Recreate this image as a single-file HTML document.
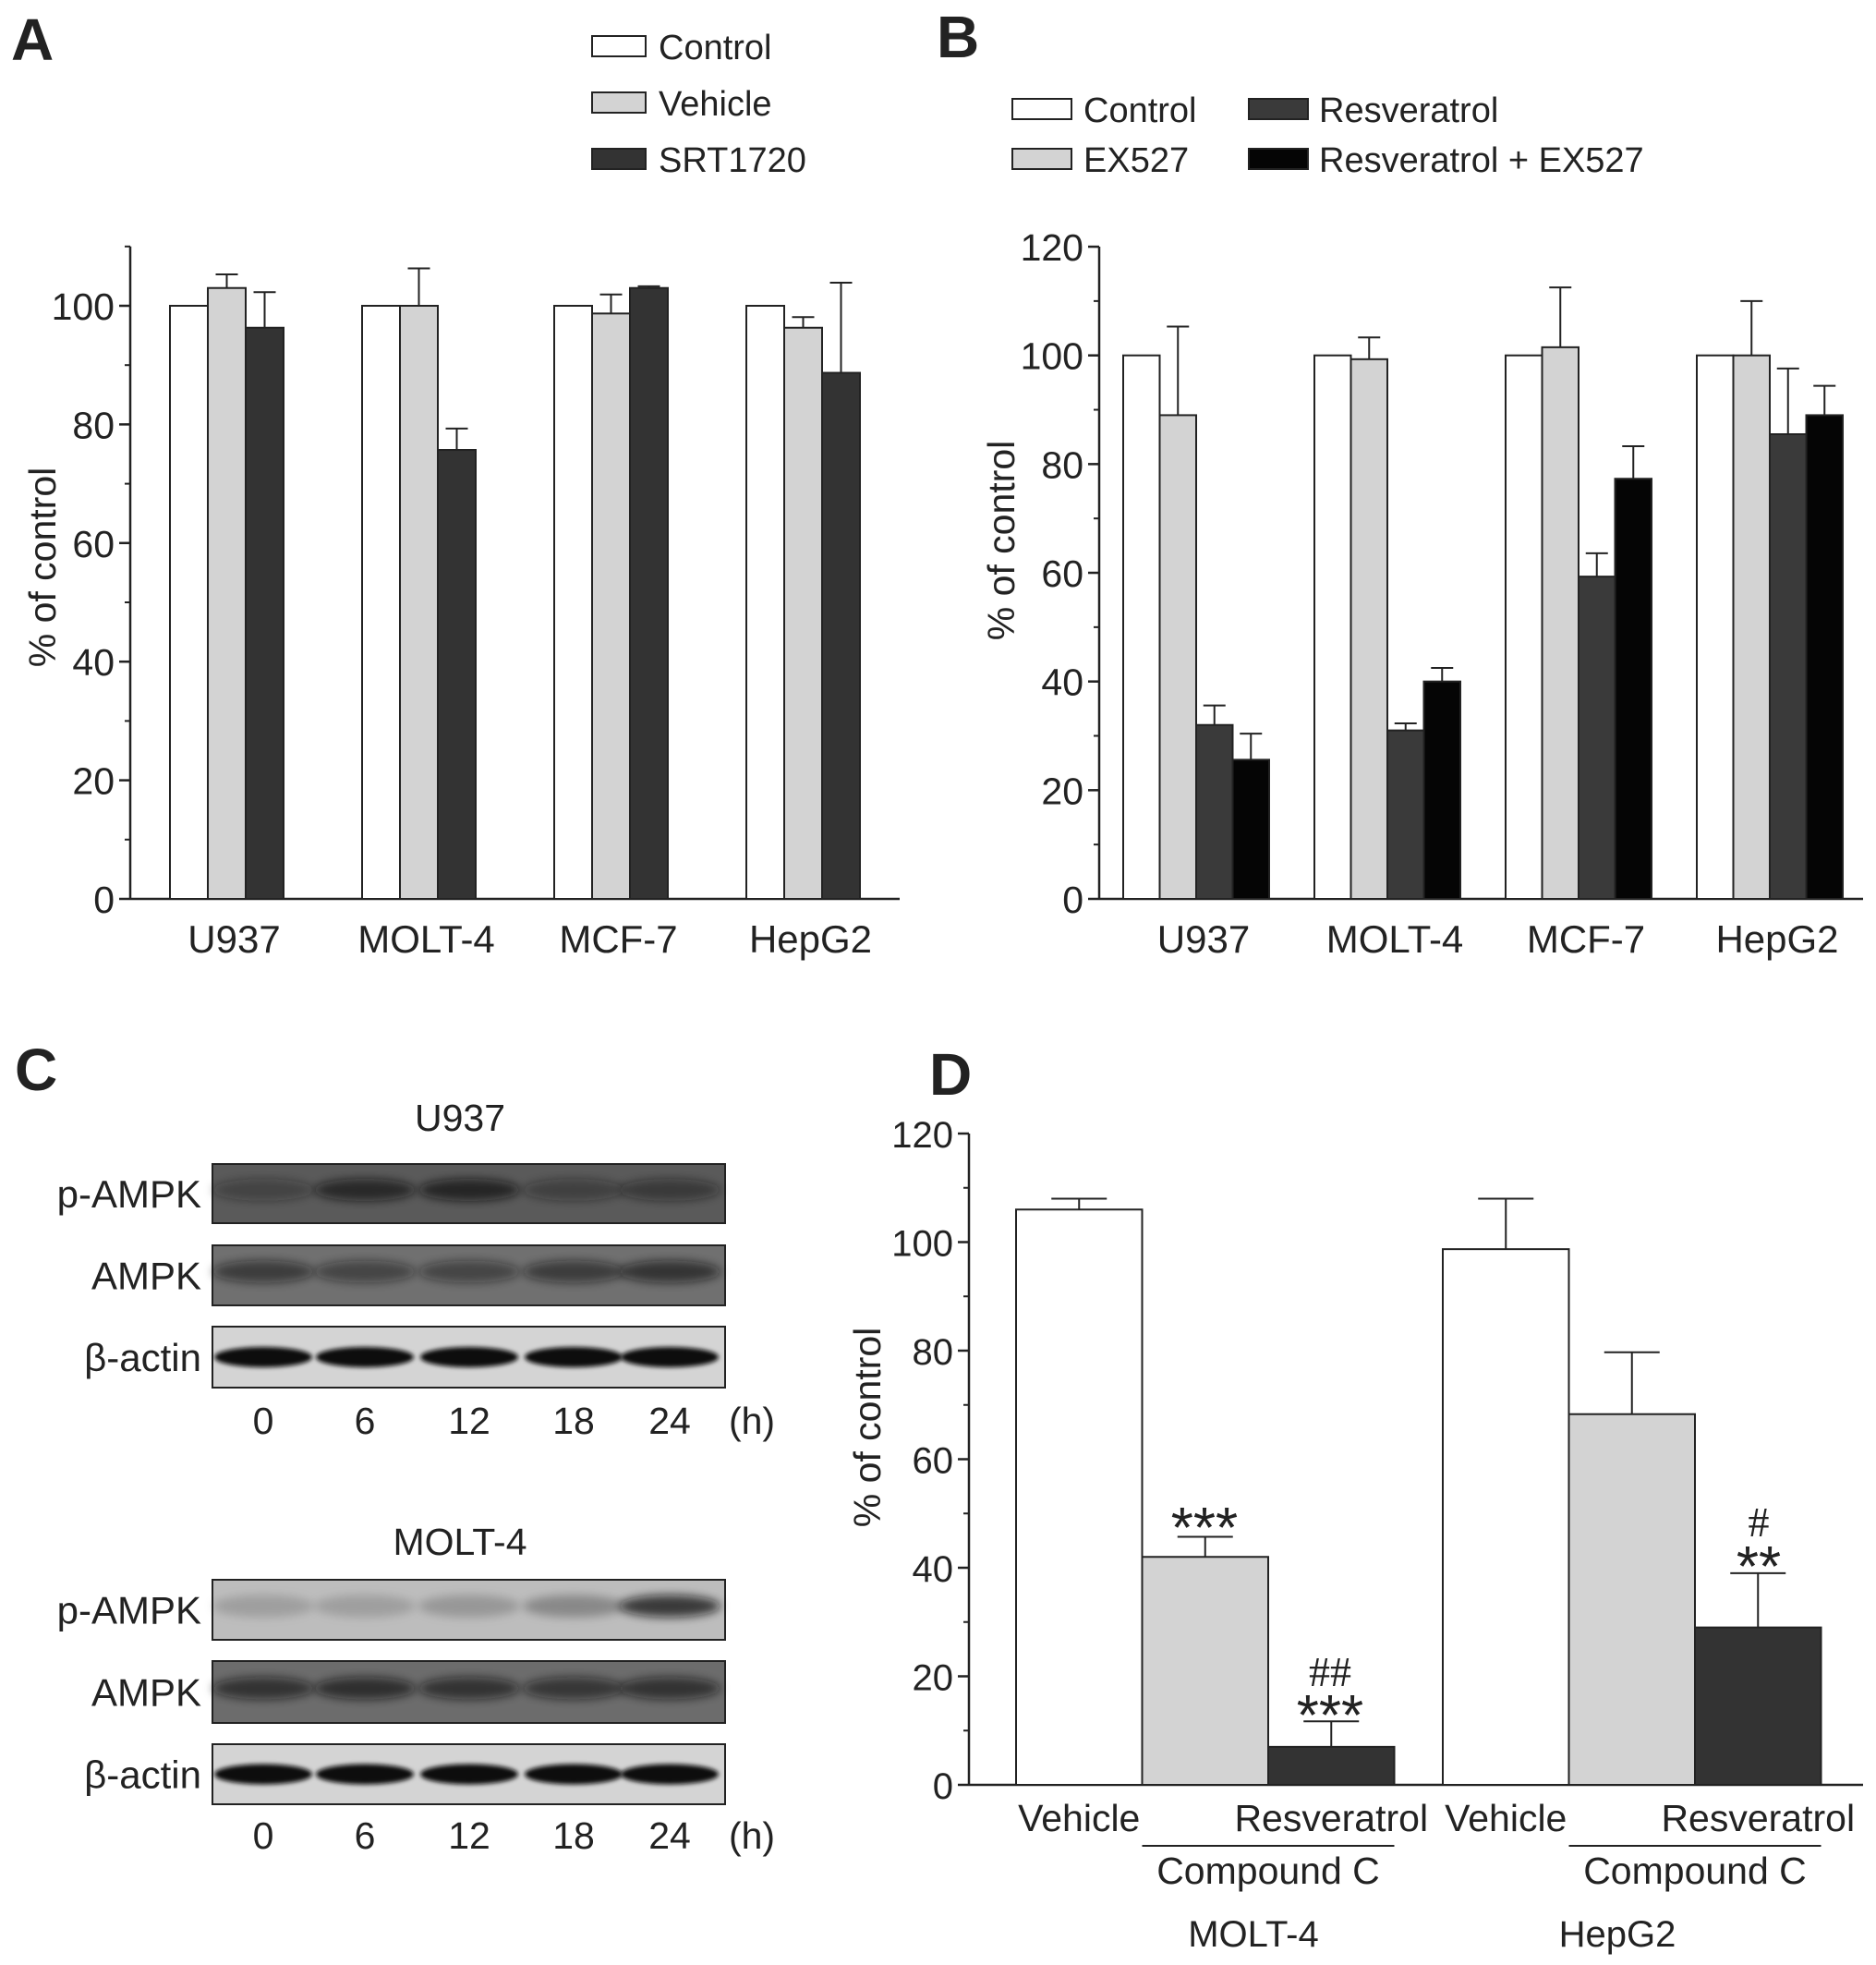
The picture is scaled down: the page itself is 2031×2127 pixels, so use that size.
<!DOCTYPE html>
<html><head><meta charset="utf-8"><style>
html,body{margin:0;padding:0;background:#fff;}
svg{display:block;font-family:"Liberation Sans",Arial,sans-serif;}
</style></head><body>
<svg id="fig" width="2031" height="2127" viewBox="0 0 2031 2127" xmlns="http://www.w3.org/2000/svg">
<defs>
<filter id="blur" x="-20%" y="-50%" width="140%" height="200%"><feGaussianBlur stdDeviation="5"/></filter>
<filter id="blur2" x="-20%" y="-50%" width="140%" height="200%"><feGaussianBlur stdDeviation="2.5"/></filter>
</defs>
<g id="root"></g>
</svg>
<script>
// ---- Panel A data ----
const catsA = ["U937","MOLT-4","MCF-7","HepG2"];
const seriesA = ["Control","Vehicle","SRT1720"];
const ctrlA = [100,100,100,100];
const vehA = [103,100,98.7,96.3];
const srtA = [96.3,75.7,103,88.7];
const vehAErr = [105.3,106.3,101.9,98.1];
const srtAErr = [102.3,79.3,103.3,103.9];
const ticksA = [0,20,40,60,80,100];
// ---- Panel B data ----
const catsB = ["U937","MOLT-4","MCF-7","HepG2"];
const seriesB = ["Control","EX527","Resveratrol","Resveratrol + EX527"];
const ctrlB = [100,100,100,100];
const exB = [89,99.3,101.5,100];
const resB = [32,31,59.3,85.5];
const resExB = [25.6,40,77.3,89];
const exBErr = [105.3,103.3,112.5,110];
const resBErr = [35.6,32.3,63.6,97.6];
const resExBErr = [30.4,42.5,83.3,94.4];
const ticksB = [0,20,40,60,80,100,120];
// ---- Panel D data ----
const groupsD = ["MOLT-4","HepG2"];
const condD = ["Vehicle","Compound C","Resveratrol"];
const molt4D = [106,42,7];
const hepg2D = [98.7,68.3,29];
const molt4DErr = [108,45.7,11.7];
const hepg2DErr = [108,79.7,39];
const ticksD = [0,20,40,60,80,100,120];
// ---- Panel C data ----
const timesC = ["0","6","12","18","24"];
const blotRowsC = ["p-AMPK","AMPK","β-actin"];

const NS="http://www.w3.org/2000/svg";
const root=document.getElementById('root');
function mk(tag,attrs,parent,txt){const e=document.createElementNS(NS,tag);for(const k in attrs)e.setAttribute(k,attrs[k]);if(txt!==undefined)e.textContent=txt;(parent||root).appendChild(e);return e;}
function line(x1,y1,x2,y2,p,w){return mk('line',{x1,y1,x2,y2,stroke:'#222','stroke-width':w||2.5},p);}

function axis(p,x0,x1,yS,ticks,minorStep,vmax,fs,tickX){
  const ax=mk('g',{},p);
  
  
  line(x0,yS(0),x0,yS(vmax),ax);
  line(x0,yS(0),x1,yS(0),ax);
  for(let v=0;v<=vmax+0.01;v+=minorStep){line(x0-6,yS(v),x0,yS(v),ax,2);}
  ticks.forEach(t=>{line(x0-12,yS(t),x0,yS(t),ax,2.5);
    const tl=mk('text',{x:x0-(tickX||17),y:yS(t)+15,'text-anchor':'end','font-size':fs,fill:'#222'},ax,String(t));
    
    
  });
}
function bar(p,x,w,yS,v,fill,name){const r=mk('rect',{x,y:yS(v),width:w,height:yS(0)-yS(v),fill,stroke:'#222','stroke-width':2},p);
  
  return r;}
function err(p,cx,yS,v,e,cap){const g=mk('g',{},p);
  
  
  line(cx,yS(v),cx,yS(e),g,2);line(cx-cap,yS(e),cx+cap,yS(e),g,2);}
function label(p,x,y,t,fs,anchor,name,weight,fam){const a={x,y,'font-size':fs,'text-anchor':anchor||'middle',fill:'#222','font-weight':weight||'normal'};if(fam)a['font-family']=fam;const e=mk('text',a,p,t);
  
  return e;}
function ytitle(p,x,y,fs){const e=mk('text',{x,y,'font-size':fs,'text-anchor':'middle',fill:'#222',transform:`rotate(-90 ${x} ${y})`},p,'% of control');
  
  }

// ===== Panel A =====
{
const g=mk('g',{});


const yS=v=>973-v*6.42;
axis(g,141,974,yS,ticksA,10,110,41);
const left0=184,sp=208,bw=41;
const fills=['#fff','#d3d3d3','#333'];
catsA.forEach((c,i)=>{
  const L=left0+sp*i;
  bar(g,L,bw,yS,ctrlA[i],fills[0],'bar-control-'+c);
  bar(g,L+bw,bw,yS,vehA[i],fills[1],'bar-vehicle-'+c);
  bar(g,L+2*bw,bw,yS,srtA[i],fills[2],'bar-srt1720-'+c);
  err(g,L+1.5*bw,yS,vehA[i],vehAErr[i],12);
  err(g,L+2.5*bw,yS,srtA[i],srtAErr[i],12);
  label(g,L+1.5*bw+8,1031,c,42,'middle','x-tick-label');
});
ytitle(g,60,614,41);
label(g,12,65,'A',64,'start','panel-label','bold');
seriesA.forEach((s,i)=>{
  const y=[50,111,172][i];
  const r=mk('rect',{x:641,y:y-11,width:58,height:22,fill:fills[i],stroke:'#222','stroke-width':2},g);
  
  
  label(g,713,y+14,s,38,'start','legend-entry');
});
}
// ===== Panel B =====
{
const g=mk('g',{});


const yS=v=>973-v*5.883;
axis(g,1190,2017,yS,ticksB,10,120,41);
const left0=1216,sp=207,bw=39.5;
const fills=['#fff','#d3d3d3','#3a3a3a','#050505'];
catsB.forEach((c,i)=>{
  const L=left0+sp*i;
  bar(g,L,bw,yS,ctrlB[i],fills[0],'bar-control-'+c);
  bar(g,L+bw,bw,yS,exB[i],fills[1],'bar-ex527-'+c);
  bar(g,L+2*bw,bw,yS,resB[i],fills[2],'bar-resveratrol-'+c);
  bar(g,L+3*bw,bw,yS,resExB[i],fills[3],'bar-resveratrol-ex527-'+c);
  err(g,L+1.5*bw,yS,exB[i],exBErr[i],12);
  err(g,L+2.5*bw,yS,resB[i],resBErr[i],12);
  err(g,L+3.5*bw,yS,resExB[i],resExBErr[i],12);
  label(g,L+2*bw+8,1031,c,42,'middle','x-tick-label');
});
ytitle(g,1098,585,41);
label(g,1014,62,'B',64,'start','panel-label','bold');
seriesB.forEach((s,i)=>{
  const x=i<2?1096:1352, tx=i<2?1173:1428, y=[118,172][i%2];
  const r=mk('rect',{x,y:y-11,width:64,height:22,fill:fills[i],stroke:'#222','stroke-width':2},g);
  
  
  label(g,tx,y+14,s,38,'start','legend-entry');
});
}
// ===== Panel C =====
{
const g=mk('g',{});


label(g,16,1180,'C',64,'start','panel-label','bold');
const laneX=[285,395,508,621,725];
const blocks=[
 {title:'U937',ty:1224,rows:[[1260,1324],[1348,1413],[1436,1502]],ly:1552,
  bg:['#5a5a5a','#707070','#d4d4d4'],band:[[0.45,0.85,0.9,0.5,0.6],[0.7,0.6,0.6,0.7,0.8],[1,1,1,1,1]]},
 {title:'MOLT-4',ty:1683,rows:[[1710,1775],[1798,1865],[1888,1953]],ly:2001,
  bg:['#bdbdbd','#6c6c6c','#d4d4d4'],band:[[0.2,0.2,0.25,0.35,0.95],[0.8,0.85,0.8,0.75,0.8],[1,1,1,1,1]]}
];
blocks.forEach(b=>{
  label(g,498,b.ty,b.title,41,'middle','blot-title');
  b.rows.forEach((r,ri)=>{
    const bg=mk('rect',{x:230,y:r[0],width:555,height:r[1]-r[0],fill:b.bg[ri],stroke:'#222','stroke-width':2},g);
    
    
    const cy=(r[0]+r[1])/2 + (ri===2?0:-4);
    laneX.forEach((lx,li)=>{
      const s=b.band[ri][li];
      const e=mk('ellipse',{cx:lx,cy,rx:ri===2?53:55,ry:ri===2?11:12,fill:'#111','fill-opacity':ri===2?1:s*0.8,filter:ri===2?'url(#blur2)':'url(#blur)'},g);
      
      
    });
    label(g,218,(r[0]+r[1])/2+15,blotRowsC[ri],42,'end','blot-row-label');
  });
  timesC.forEach((t,i)=>label(g,laneX[i],b.ly,t,41,'middle','time-label'));
  label(g,814,b.ly,'(h)',41,'middle','time-unit');
});
}
// ===== Panel D =====
{
const g=mk('g',{});


const yS=v=>1932-v*5.875;
axis(g,1049,2017,yS,ticksD,10,120,40);
const fills=['#fff','#d3d3d3','#333'];
const starts=[1100,1562],bw=136.5;
[molt4D,hepg2D].forEach((vals,gi)=>{
  const errs=gi===0?molt4DErr:hepg2DErr;
  vals.forEach((v,i)=>{
    const L=starts[gi]+bw*i;
    bar(g,L,bw,yS,v,fills[i],'bar-'+groupsD[gi]+'-'+condD[i]);
    err(g,L+bw/2,yS,v,errs[i],30);
  });
  const L=starts[gi];
  label(g,L+bw/2,1982,'Vehicle',41,'middle','x-tick-label');
  label(g,L+2.5*bw,1982,'Resveratrol',41,'middle','x-tick-label');
  const ul=line(L+bw,1998,L+3*bw,1998,g,2);
  
  
  label(g,L+2*bw,2039,'Compound C',41,'middle','x-group-label');
});
label(g,1357,2107,'MOLT-4',40,'middle','cell-line-label');
label(g,1751,2107,'HepG2',40,'middle','cell-line-label');
label(g,1304,1675,'***',62,'middle','significance-mark');
label(g,1440,1825,'##',46,'middle','significance-mark','normal','"Liberation Serif",serif');
label(g,1440,1878,'***',62,'middle','significance-mark');
label(g,1904,1663,'#',46,'middle','significance-mark','normal','"Liberation Serif",serif');
label(g,1904,1717,'**',62,'middle','significance-mark');
ytitle(g,953,1545,41);
label(g,1006,1185,'D',64,'start','panel-label','bold');
}
</script>
</body></html>
